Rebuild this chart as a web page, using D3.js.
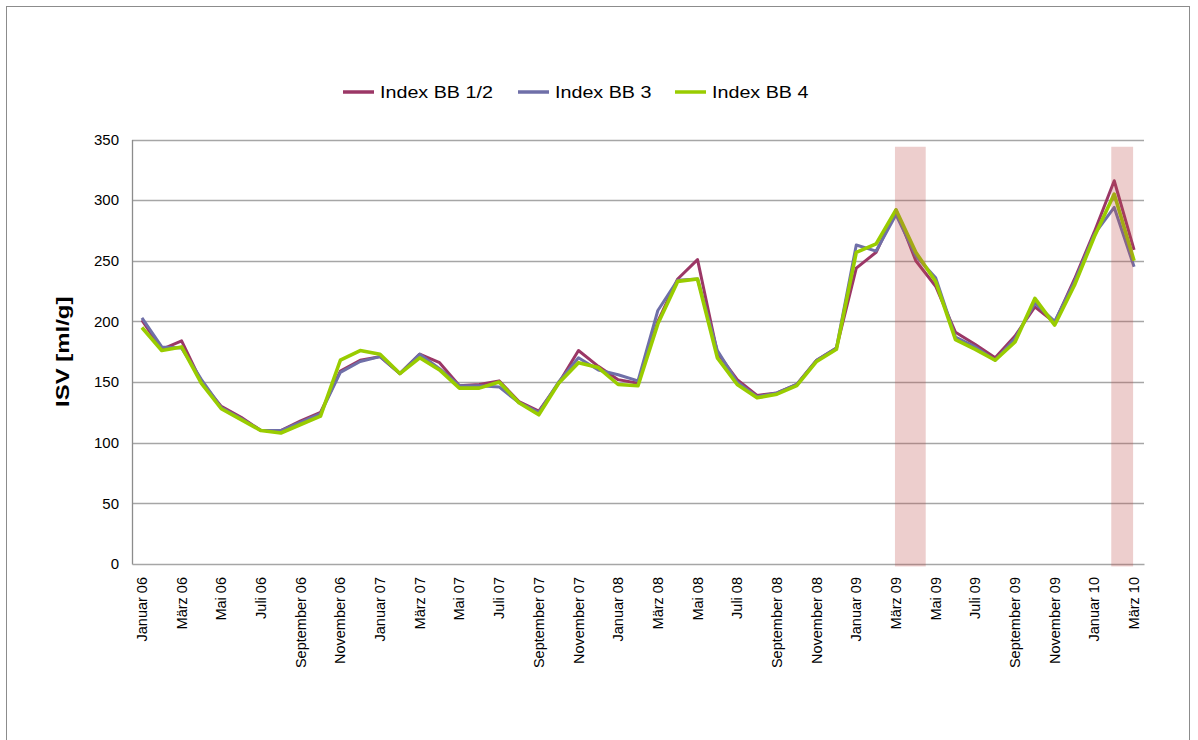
<!DOCTYPE html>
<html>
<head>
<meta charset="utf-8">
<script src="https://cdn.jsdelivr.net/npm/d3@7"></script>
<style>
  html, body { margin: 0; padding: 0; background: #fff; }
  svg { display: block; font-family: "Liberation Sans", Arial, sans-serif; }
</style>
</head>
<body>
<svg id="chart" width="1198" height="740"></svg>
<script>
// Monthly sludge volume index, January 2006 – March 2010
const monthNames = ["Januar", "Februar", "März", "April", "Mai", "Juni", "Juli",
  "August", "September", "Oktober", "November", "Dezember"];
const years = ["06", "07", "08", "09", "10"];
const months = [];
years.forEach(y => monthNames.forEach(m => months.push(m + " " + y)));
months.length = 51; // ends with "März 10"

const seriesNames = ["Index BB 1/2", "Index BB 3", "Index BB 4"];
const seriesColors = ["#9b3766", "#6f6fa8", "#99cc00"];

const indexBB12 = [201, 177, 184, 150, 130, 121, 110, 110, 118, 125,
  159, 168, 171, 157, 173, 166, 147, 148, 151, 134,
  126, 149, 176, 163, 152, 149, 200, 235, 251, 174,
  152, 139, 141, 148, 168, 178, 244, 257, 292, 250,
  229, 191, 181, 170, 188, 212, 199, 235, 274, 316, 259];
const indexBB3 = [203, 179, 178, 152, 129, 120, 110, 110, 117, 124,
  158, 167, 171, 157, 173, 161, 147, 147, 146, 133,
  125, 150, 170, 160, 156, 151, 209, 234, 235, 176,
  150, 138, 141, 148, 168, 178, 263, 258, 288, 254,
  236, 187, 179, 168, 186, 215, 200, 233, 272, 294, 245];
const indexBB4 = [195, 176, 179, 149, 128, 119, 110, 108, 115, 122,
  168, 176, 173, 157, 170, 160, 145, 145, 150, 133,
  123, 149, 166, 162, 148, 147, 198, 233, 235, 170,
  148, 137, 140, 147, 167, 177, 257, 264, 292, 257,
  233, 185, 177, 168, 183, 219, 197, 230, 270, 305, 250];
const seriesValues = [indexBB12, indexBB3, indexBB4];

const yTicks = [0, 50, 100, 150, 200, 250, 300, 350];
// Highlighted periods, in month positions along the time axis
const highlightSpans = [[38.45, 40.0], [49.35, 50.45]];
const highlightRange = [-2, 344];

const svg = d3.select("#chart");
const plot = { left: 132, right: 1144, top: 139.5, bottom: 564 };

// Outer frame
svg.append("rect")
  .attr("x", 6.5).attr("y", 6.5)
  .attr("width", 1183).attr("height", 800)
  .attr("fill", "#fff").attr("stroke", "#8c8c8c").attr("stroke-width", 1);

const x = d3.scaleBand().domain(months).range([plot.left, plot.right]).padding(0);
const xPos = d3.scaleLinear().domain([0, months.length]).range([plot.left, plot.right]);
const y = d3.scaleLinear().domain([0, 350]).range([plot.bottom, plot.top]);

// Horizontal gridlines
svg.append("g")
  .selectAll("line")
  .data(yTicks.filter(t => t > 0))
  .join("line")
  .attr("x1", plot.left).attr("x2", plot.right)
  .attr("y1", d => Math.round(y(d)) + 0.5).attr("y2", d => Math.round(y(d)) + 0.5)
  .attr("stroke", "#a6a6a6").attr("stroke-width", 1.3);

// Y axis
const yAxis = svg.append("g")
  .attr("transform", `translate(${plot.left},0)`)
  .call(d3.axisLeft(y).tickValues(yTicks).tickSize(0).tickPadding(13));
yAxis.select(".domain").attr("stroke", "#8c8c8c").attr("stroke-width", 1.3);
yAxis.selectAll("text").attr("font-size", 15).attr("fill", "#000")
  .attr("font-family", "'Liberation Sans', Arial, sans-serif");

// X axis
const xAxis = svg.append("g")
  .attr("transform", `translate(0,${plot.bottom})`)
  .call(d3.axisBottom(x).tickValues(months.filter((m, i) => i % 2 === 0)).tickSize(0));
xAxis.select(".domain").attr("stroke", "#a6a6a6").attr("stroke-width", 1.3);
xAxis.selectAll("text")
  .attr("font-size", 14.5).attr("fill", "#000")
  .attr("font-family", "'Liberation Sans', Arial, sans-serif")
  .attr("text-anchor", "end")
  .attr("transform", "rotate(-90)")
  .attr("x", -13).attr("y", 0).attr("dy", "0.35em");

// Y axis title (set a little wide along its run)
svg.append("text")
  .attr("transform", `translate(69,${(plot.top + plot.bottom) / 2}) rotate(-90) scale(1.33,1)`)
  .attr("text-anchor", "middle")
  .attr("font-size", 18).attr("font-weight", "bold")
  .text("ISV [ml/g]");

// Series lines
const line = d3.line()
  .x((d, i) => x(months[i]) + x.bandwidth() / 2)
  .y(d => y(d));
const widths = [3, 3, 3.6];
seriesValues.forEach((vals, k) => {
  svg.append("path")
    .datum(vals)
    .attr("d", line)
    .attr("fill", "none")
    .attr("stroke", seriesColors[k])
    .attr("stroke-width", widths[k])
    .attr("stroke-linejoin", "round");
});

// Highlighted periods
svg.append("g")
  .selectAll("rect")
  .data(highlightSpans)
  .join("rect")
  .attr("x", d => xPos(d[0]))
  .attr("width", d => xPos(d[1]) - xPos(d[0]))
  .attr("y", y(highlightRange[1]))
  .attr("height", y(highlightRange[0]) - y(highlightRange[1]))
  .attr("fill", "#c0504d").attr("fill-opacity", 0.28);

// Legend (text set slightly wide)
const legendX = [343, 518, 675];
const legend = svg.append("g");
seriesNames.forEach((name, k) => {
  const g = legend.append("g").attr("transform", `translate(${legendX[k]},92)`);
  g.append("line").attr("x1", 0).attr("x2", 31).attr("y1", 0).attr("y2", 0)
    .attr("stroke", seriesColors[k]).attr("stroke-width", 3.5);
  g.append("text")
    .attr("transform", "translate(37,0) scale(1.16,1)")
    .attr("dy", "0.35em")
    .attr("font-size", 17).text(name);
});
</script>
</body>
</html>
